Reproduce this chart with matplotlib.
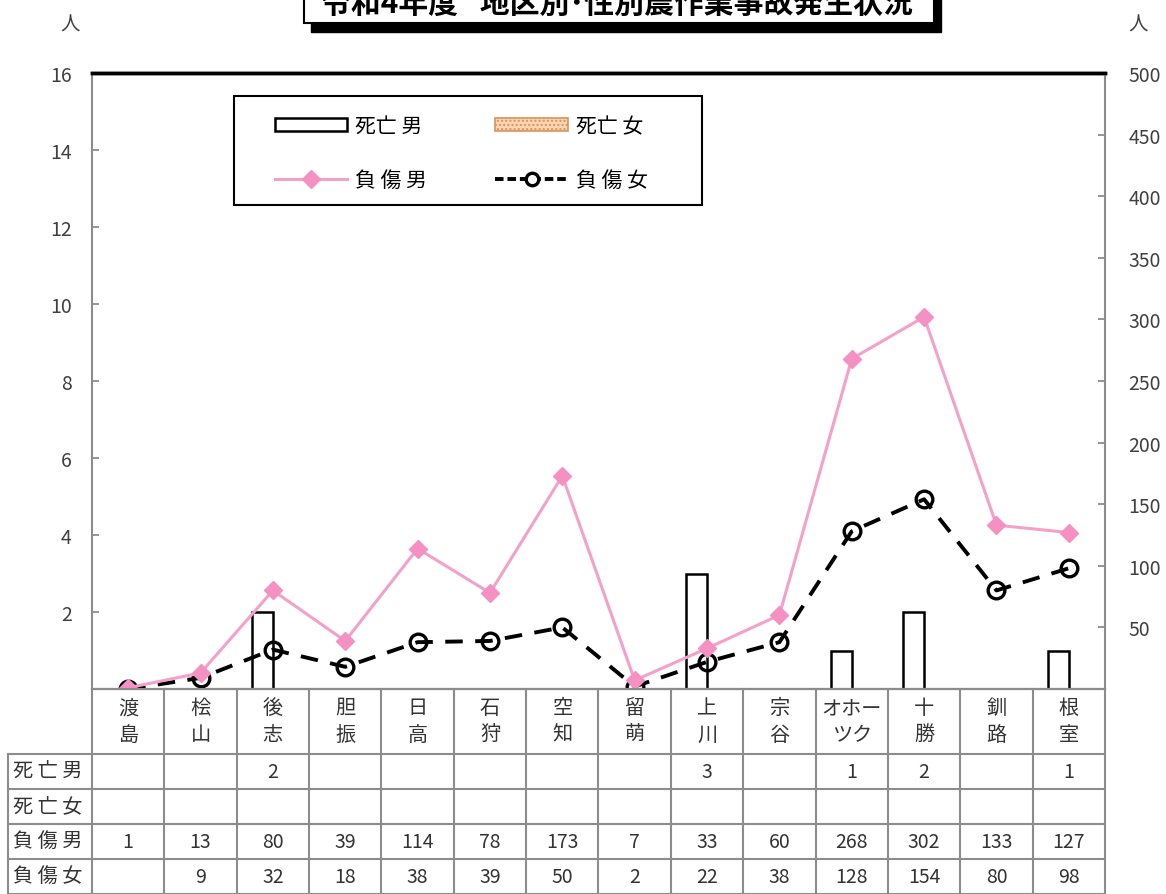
import numpy as np
import matplotlib
matplotlib.use("Agg")
import matplotlib.pyplot as plt
from matplotlib.patches import Rectangle
from matplotlib.lines import Line2D

plt.rcParams['font.family'] = ['Noto Sans CJK JP', 'DejaVu Sans']

# ---------------- data ----------------
title = "令和4年度\u2002 地区別\uff65性別農作業事故発生状況"
regions = ["渡\n島", "桧\n山", "後\n志", "胆\n振", "日\n高", "石\n狩", "空\n知",
           "留\n萌", "上\n川", "宗\n谷", "オホー\nツク", "十\n勝", "釧\n路", "根\n室"]
row_labels = ["死 亡 男", "死 亡 女", "負 傷 男", "負 傷 女"]
death_male = [0, 0, 2, 0, 0, 0, 0, 0, 3, 0, 1, 2, 0, 1]
death_female = [0, 0, 0, 0, 0, 0, 0, 0, 0, 0, 0, 0, 0, 0]
injury_male = [1, 13, 80, 39, 114, 78, 173, 7, 33, 60, 268, 302, 133, 127]
injury_female = [0, 9, 32, 18, 38, 39, 50, 2, 22, 38, 128, 154, 80, 98]
left_ticks = [2, 4, 6, 8, 10, 12, 14, 16]
right_ticks = [50, 100, 150, 200, 250, 300, 350, 400, 450, 500]

W, H = 1166, 895
fig = plt.figure(figsize=(W / 100, H / 100), dpi=100)

def fx(x):
    return x / W

def fy(y):
    return 1 - y / H

L, R, T, B = 92, 1105, 74, 690
ax = fig.add_axes([fx(L), fy(B), fx(R) - fx(L), fy(T) - fy(B)])
ax2 = ax.twinx()

n = len(regions)
x = np.arange(n)
grid_c = '#8c8c8c'
pink = '#f5a0c9'
pink_m = '#f590c2'

# bars (left axis)
w = 0.29
ax.bar(x - w / 2, death_male, width=w, facecolor='white', edgecolor='black', linewidth=1.8, zorder=2)
ax.bar(x + w / 2, death_female, width=w, facecolor='#fcd5b4', edgecolor='#d9935a', hatch='....',
       linewidth=0.0, zorder=2)
ax.set_xlim(-0.5, n - 0.5)
ax.set_ylim(0, 16)
ax.set_xticks([])
ax.set_yticks(left_ticks)
ax.tick_params(axis='y', direction='in', length=5, width=1.3, color=grid_c, pad=14.5,
               labelsize=14, labelcolor='#404040')

# lines (right axis)
ax2.plot(x, injury_female, color='black', lw=2.8, linestyle=(0, (4.5, 3.2)),
         marker='o', markersize=12, markerfacecolor='none', markeredgecolor='black',
         markeredgewidth=2.4, zorder=3)
ax2.plot(x, injury_male, color=pink, lw=2.2, marker='D', markersize=9,
         markerfacecolor=pink_m, markeredgecolor=pink_m, zorder=4)
ax2.set_ylim(0, 500)
ax2.set_yticks(right_ticks)
ax2.tick_params(axis='y', direction='in', length=5, width=1.3, color=grid_c, pad=17,
                labelsize=14, labelcolor='#404040')

for a in (ax, ax2):
    for s in ('left', 'right', 'bottom'):
        a.spines[s].set_color(grid_c)
        a.spines[s].set_linewidth(1.5)
    a.spines['top'].set_color('black')
    a.spines['top'].set_linewidth(2.5)
ax2.spines['left'].set_visible(False)
ax.spines['right'].set_visible(False)

# legend (frame drawn manually)
fig.patches.append(Rectangle((fx(234), fy(206)), fx(702) - fx(234), fy(97) - fy(206),
                             transform=fig.transFigure, facecolor='white', edgecolor='black',
                             linewidth=1.5, zorder=5))
handles = [
    Rectangle((0, 0), 1, 1, facecolor='white', edgecolor='black', linewidth=1.8),
    Line2D([], [], color=pink, lw=2.2, marker='D', markersize=9,
           markerfacecolor=pink_m, markeredgecolor=pink_m),
    Rectangle((0, 0), 1, 1, facecolor='#fcd5b4', edgecolor='#d9935a', hatch='....', linewidth=1.2),
    Line2D([], [], color='black', lw=2.8, linestyle=(0, (2.2, 1.0)), marker='o', markersize=9,
           markerfacecolor='white', markeredgecolor='black', markeredgewidth=2.4),
]
labels = ["死亡 男", "負 傷 男", "死亡 女", "負 傷 女"]
leg = fig.legend(handles, labels, ncol=2, loc='center',
                 bbox_to_anchor=(fx(461), fy(154)), frameon=False, fontsize=15,
                 handlelength=3.5, handleheight=0.6, handletextpad=0.35, columnspacing=3.3,
                 labelspacing=1.55)
leg.set_zorder(6)

# table
tax = fig.add_axes([fx(L), 0, fx(R) - fx(L), fy(B)])
tax.set_xlim(-0.5, n - 0.5)
tax.set_ylim(205, 0)
tax.axis('off')
colw = (R - L) / n
lab_left = -0.5 - (L - 8) / colw
rows_y = [65, 100, 135, 170, 205]
kw = dict(color=grid_c, lw=1.5, clip_on=False)
tax.plot([-0.5, n - 0.5], [0, 0], **kw)
for yy in rows_y:
    tax.plot([lab_left, n - 0.5], [yy, yy], **kw)
for k in range(n + 1):
    tax.plot([k - 0.5, k - 0.5], [0, 205], **kw)
tax.plot([lab_left, lab_left], [65, 205], **kw)

txt_c = '#333333'
for i, name in enumerate(regions):
    tax.text(i, 32, name, ha='center', va='center', fontsize=14.5, color=txt_c, linespacing=1.35)
table_vals = [death_male, death_female, injury_male, injury_female]
for r, (lab, vals) in enumerate(zip(row_labels, table_vals)):
    yc = (rows_y[r] + rows_y[r + 1]) / 2
    tax.text(lab_left + 0.07, yc, lab, ha='left', va='center', fontsize=14.5, color=txt_c)
    for i, v in enumerate(vals):
        if v:
            tax.text(i, yc, str(v), ha='center', va='center', fontsize=14, color=txt_c)

# unit labels
fig.text(fx(70), fy(25), "人", ha='center', va='center', fontsize=14, color='#404040')
fig.text(fx(1138), fy(25), "人", ha='center', va='center', fontsize=14, color='#404040')

# title box with shadow
fig.patches.append(Rectangle((fx(311), fy(33)), fx(630), 50 / H, transform=fig.transFigure,
                             facecolor='black', edgecolor='black', zorder=5))
fig.patches.append(Rectangle((fx(304), fy(24)), fx(630), 50 / H, transform=fig.transFigure,
                             facecolor='white', edgecolor='black', linewidth=1.5, zorder=6))
fig.text(fx(617), fy(4), title, ha='center', va='center', fontsize=21.5, fontweight='bold',
         color='black', zorder=7)

fig.savefig("out.png", dpi=100)
